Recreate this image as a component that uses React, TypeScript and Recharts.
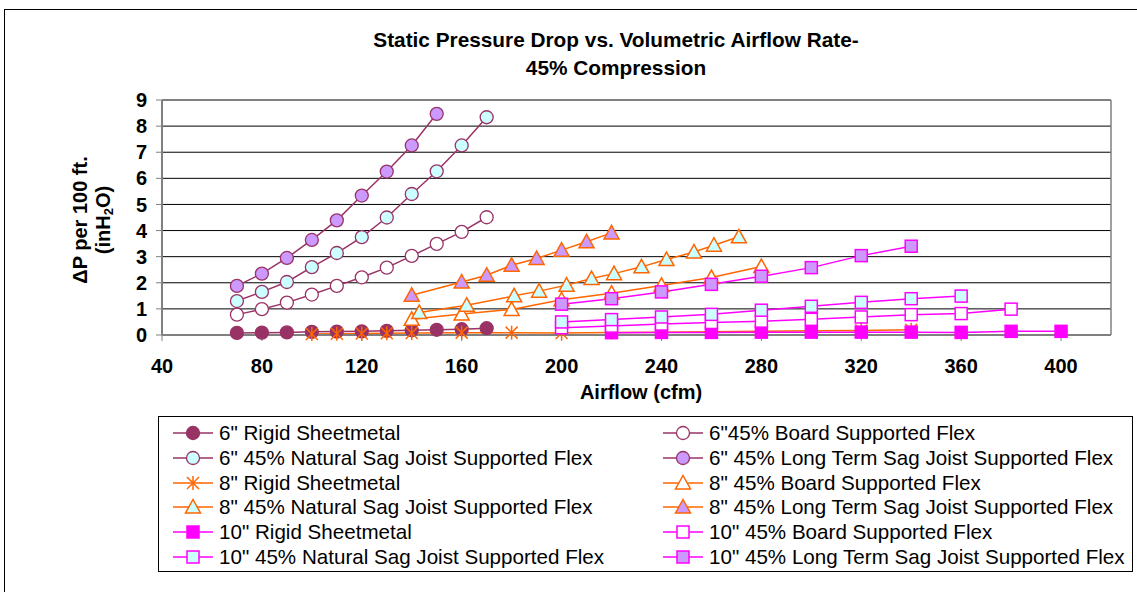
import React from "react";
import { LineChart, Line, XAxis, YAxis, CartesianGrid, ReferenceLine } from "recharts";

const FONT = '"Liberation Sans", Arial, sans-serif';

const PLUM = "#993366";
const ORANGE = "#FF6600";
const MAGENTA = "#FF00FF";
const CYAN = "#CCFFFF";
const LILAC = "#CC99FF";

const xTicks = [40, 80, 120, 160, 200, 240, 280, 320, 360, 400];
const yTicks = [0, 1, 2, 3, 4, 5, 6, 7, 8, 9];

// 6" duct
const cfm6 = [70, 80, 90, 100, 110, 120, 130, 140, 150, 160, 170];
const rigid6 = [0.08, 0.09, 0.1, 0.12, 0.13, 0.14, 0.16, 0.18, 0.2, 0.22, 0.26];
const board6 = [0.78, 0.99, 1.24, 1.55, 1.88, 2.21, 2.58, 3.03, 3.49, 3.95, 4.51];
const natSag6 = [1.3, 1.65, 2.03, 2.6, 3.14, 3.75, 4.5, 5.4, 6.27, 7.26, 8.34];
const cfm6LT = [70, 80, 90, 100, 110, 120, 130, 140, 150];
const ltSag6 = [1.88, 2.35, 2.95, 3.64, 4.39, 5.34, 6.26, 7.26, 8.47];

// 8" duct
const cfm8Rigid = [100, 110, 120, 130, 140, 160, 180, 200, 220, 240, 260, 280, 300, 320, 340];
const rigid8 = [0.04, 0.05, 0.06, 0.07, 0.08, 0.09, 0.09, 0.08, 0.1, 0.11, 0.12, 0.14, 0.16, 0.17, 0.2];
const cfm8Board = [140, 160, 180, 200, 220, 240, 260, 280];
const board8 = [0.6, 0.8, 0.98, 1.35, 1.6, 1.9, 2.2, 2.62];
const cfm8NatSag = [143, 162, 181, 191, 202, 212, 221, 232, 242, 253, 261, 271];
const natSag8 = [0.86, 1.14, 1.5, 1.68, 1.91, 2.16, 2.35, 2.61, 2.89, 3.18, 3.44, 3.76];
const cfm8LT = [140, 160, 170, 180, 190, 200, 210, 220];
const ltSag8 = [1.52, 2.03, 2.29, 2.67, 2.93, 3.25, 3.57, 3.91];

// 10" duct
const cfm10Rigid = [220, 240, 260, 280, 300, 320, 340, 360, 380, 400];
const rigid10 = [0.09, 0.1, 0.1, 0.11, 0.11, 0.11, 0.11, 0.1, 0.14, 0.14];
const cfm10Board = [200, 220, 240, 260, 280, 300, 320, 340, 360, 380];
const board10 = [0.28, 0.34, 0.42, 0.48, 0.53, 0.6, 0.69, 0.78, 0.82, 0.99];
const cfm10NatSag = [200, 220, 240, 260, 280, 300, 320, 340, 360];
const natSag10 = [0.5, 0.59, 0.69, 0.79, 0.95, 1.1, 1.25, 1.39, 1.49];
const cfm10LT = [200, 220, 240, 260, 280, 300, 320, 340];
const ltSag10 = [1.18, 1.39, 1.65, 1.94, 2.25, 2.58, 3.04, 3.4];

type Shape = "circle" | "square" | "triangle" | "star";

const series: { name: string; xs: number[]; ys: number[]; color: string; shape: Shape; fill: string }[] = [
  { name: '6" Rigid Sheetmetal', xs: cfm6, ys: rigid6, color: PLUM, shape: "circle", fill: PLUM },
  { name: '6"45% Board Supported Flex', xs: cfm6, ys: board6, color: PLUM, shape: "circle", fill: "#fff" },
  { name: '6" 45% Natural Sag Joist Supported Flex', xs: cfm6, ys: natSag6, color: PLUM, shape: "circle", fill: CYAN },
  { name: '6" 45% Long Term Sag Joist Supported Flex', xs: cfm6LT, ys: ltSag6, color: PLUM, shape: "circle", fill: LILAC },
  { name: '8" Rigid Sheetmetal', xs: cfm8Rigid, ys: rigid8, color: ORANGE, shape: "star", fill: "none" },
  { name: '8" 45% Board Supported Flex', xs: cfm8Board, ys: board8, color: ORANGE, shape: "triangle", fill: "#fff" },
  { name: '8" 45% Natural Sag Joist Supported Flex', xs: cfm8NatSag, ys: natSag8, color: ORANGE, shape: "triangle", fill: CYAN },
  { name: '8" 45% Long Term Sag Joist Supported Flex', xs: cfm8LT, ys: ltSag8, color: ORANGE, shape: "triangle", fill: LILAC },
  { name: '10" Rigid Sheetmetal', xs: cfm10Rigid, ys: rigid10, color: MAGENTA, shape: "square", fill: MAGENTA },
  { name: '10" 45% Board Supported Flex', xs: cfm10Board, ys: board10, color: MAGENTA, shape: "square", fill: "#fff" },
  { name: '10" 45% Natural Sag Joist Supported Flex', xs: cfm10NatSag, ys: natSag10, color: MAGENTA, shape: "square", fill: CYAN },
  { name: '10" 45% Long Term Sag Joist Supported Flex', xs: cfm10LT, ys: ltSag10, color: MAGENTA, shape: "square", fill: LILAC },
];

function Marker({ shape, cx, cy, fill, stroke }: { shape: Shape; cx: number; cy: number; fill: string; stroke: string }) {
  if (shape === "circle") return <circle cx={cx} cy={cy} r={6.5} fill={fill} stroke={stroke} strokeWidth={1.3} />;
  if (shape === "square")
    return <rect x={cx - 6} y={cy - 6} width={12} height={12} fill={fill} stroke={stroke} strokeWidth={1.5} />;
  if (shape === "triangle")
    return (
      <polygon
        points={`${cx},${cy - 7.5} ${cx + 7.5},${cy + 6} ${cx - 7.5},${cy + 6}`}
        fill={fill}
        stroke={stroke}
        strokeWidth={1.5}
      />
    );
  return (
    <g stroke={stroke} strokeWidth={1.5}>
      <line x1={cx} y1={cy - 7} x2={cx} y2={cy + 7} />
      <line x1={cx - 6} y1={cy - 6} x2={cx + 6} y2={cy + 6} />
      <line x1={cx - 6} y1={cy + 6} x2={cx + 6} y2={cy - 6} />
    </g>
  );
}

const tickStyle = { fill: "#000", fontSize: 20, fontWeight: "bold", fontFamily: FONT };

export default function App() {
  const rowY = (i: number) => 16 + i * 24.8;
  return (
    <div style={{ position: "absolute", left: 0, top: 0, width: 1137, height: 592, overflow: "hidden", background: "#fff", fontFamily: FONT }}>
      <div style={{ position: "absolute", left: 4, top: 9, width: 1140, height: 600, borderTop: "1px solid #000", borderLeft: "1px solid #000" }} />
      <div style={{ position: "absolute", left: 216, top: 26, width: 800, textAlign: "center", fontSize: 20.8, fontWeight: "bold", lineHeight: "28px" }}>
        Static Pressure Drop vs. Volumetric Airflow Rate-
        <br />
        45% Compression
      </div>
      <div style={{ position: "absolute", left: 0, top: 0 }}>
        <LineChart width={1137} height={592} margin={{ top: 100, right: 26, left: 102, bottom: 217 }}>
          <CartesianGrid horizontal vertical={false} stroke="#000" strokeWidth={1} />
          <XAxis
            type="number"
            dataKey="x"
            domain={[40, 420]}
            ticks={xTicks}
            interval={0}
            allowDataOverflow
            height={40}
            tick={tickStyle}
            tickSize={6}
            tickMargin={18}
            axisLine={{ stroke: "#808080", strokeWidth: 2 }}
            tickLine={{ stroke: "#808080" }}
          />
          <YAxis
            type="number"
            domain={[0, 9]}
            ticks={yTicks}
            interval={0}
            width={60}
            tick={tickStyle}
            tickSize={6}
            tickMargin={9}
            axisLine={{ stroke: "#808080", strokeWidth: 2 }}
            tickLine={{ stroke: "#808080" }}
          />
          <ReferenceLine x={420} stroke="#808080" strokeWidth={1.5} />
          <ReferenceLine y={9} stroke="#808080" strokeWidth={1.5} />
          {series.map((s, si) => (
            <Line
              key={s.name}
              name={s.name}
              data={s.xs.map((x, i) => ({ x, y: s.ys[i] }))}
              dataKey="y"
              type="linear"
              stroke={s.color}
              strokeWidth={1.5}
              isAnimationActive={false}
              activeDot={false}
              dot={(p: any) =>
                p.cx == null || p.cy == null ? (
                  <g key={`d${si}-${p.index}`} />
                ) : (
                  <Marker key={`d${si}-${p.index}`} shape={s.shape} cx={p.cx} cy={p.cy} fill={s.fill} stroke={s.color} />
                )
              }
            />
          ))}
        </LineChart>
      </div>
      <div style={{ position: "absolute", left: 17, top: 197, width: 150, height: 46, transform: "rotate(-90deg)", textAlign: "center", fontSize: 20, fontWeight: "bold", lineHeight: "23px" }}>
        ΔP per 100 ft.
        <br />
        (inH<sub style={{ fontSize: 13, verticalAlign: "-3px", lineHeight: 0 }}>2</sub>O)
      </div>
      <div style={{ position: "absolute", left: 541, top: 380, width: 200, textAlign: "center", fontSize: 20, fontWeight: "bold", lineHeight: "24px" }}>
        Airflow (cfm)
      </div>
      <div style={{ position: "absolute", left: 158, top: 416, width: 975, height: 156, border: "1px solid #000", boxSizing: "border-box" }}>
        {series.map((s, i) => {
          const col = i % 2;
          const row = Math.floor(i / 2);
          const lx = col === 0 ? 14 : 504;
          return (
            <div key={s.name} style={{ position: "absolute", left: lx, top: rowY(row) - 12, height: 24, display: "flex", alignItems: "center", whiteSpace: "nowrap" }}>
              <svg width={42} height={24} style={{ display: "block" }}>
                <line x1={0} y1={12} x2={40} y2={12} stroke={s.color} strokeWidth={1.5} />
                <Marker shape={s.shape} cx={20} cy={12} fill={s.fill} stroke={s.color} />
              </svg>
              <span style={{ marginLeft: 4, fontSize: 20.6, lineHeight: "24px", color: "#000" }}>{s.name}</span>
            </div>
          );
        })}
      </div>
    </div>
  );
}
